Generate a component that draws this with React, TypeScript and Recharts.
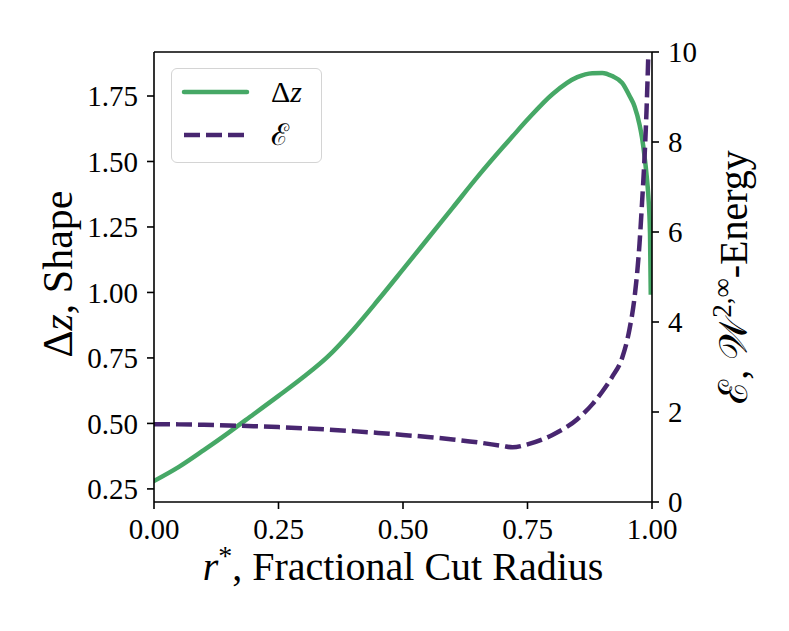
import { LineChart, Line, XAxis, YAxis, ReferenceLine } from "recharts";

// sample points of the cut radius r*
const R = [
  0, 0.05, 0.1, 0.15, 0.2, 0.25, 0.3, 0.35, 0.4, 0.45, 0.5, 0.55, 0.6, 0.65, 0.7,
  0.72, 0.75, 0.8, 0.85, 0.88, 0.9, 0.92, 0.94, 0.955, 0.965, 0.975, 0.98, 0.985,
  0.989, 0.9926, 0.996, 0.9975,
];

// Δz, shape (left axis)
const SHAPE = [
  0.28, 0.334, 0.398, 0.465, 0.535, 0.605, 0.677, 0.757, 0.858, 0.971, 1.088,
  1.206, 1.324, 1.442, 1.553, 1.596, 1.66, 1.757, 1.822, 1.837, 1.838, 1.826, 1.8,
  1.75, 1.71, 1.64, 1.59, 1.52, 1.45, 1.37, 1.226, 1.0,
];

// ℰ, W^{2,∞}-energy (right axis)
const ENERGY = [
  1.73, 1.725, 1.715, 1.7, 1.685, 1.665, 1.64, 1.61, 1.575, 1.535, 1.49, 1.445,
  1.39, 1.325, 1.245, 1.215, 1.28, 1.49, 1.84, 2.17, 2.45, 2.78, 3.2, 3.85,
  4.55, 5.75, 6.65, 7.65, 8.7, 9.93, null, null,
];

const X_TICKS = [0, 0.25, 0.5, 0.75, 1];
const SHAPE_TICKS = [0.25, 0.5, 0.75, 1, 1.25, 1.5, 1.75];
const ENERGY_TICKS = [0, 2, 4, 6, 8, 10];

const GREEN = "#46a866";
const PURPLE = "#482670";
const FONT = "'Liberation Serif', 'DejaVu Serif', serif";

const data = R.map((r, i) => ({ r, shape: SHAPE[i], energy: ENERGY[i] }));

const tickStyle = { fill: "#000", fontSize: 29, fontFamily: FONT, style: { fontFamily: FONT } };
const axisStroke = { stroke: "#000", strokeWidth: 1.6 };
const textStyle = { fontFamily: FONT };

const xLabel = () => (
  <text x={403} y={580} textAnchor="middle" fontSize={40} style={textStyle} fill="#000">
    <tspan fontStyle="italic">r</tspan>
    <tspan dy={-15} fontSize={28}>*</tspan>
    <tspan dy={15}>, Fractional Cut Radius</tspan>
  </text>
);

const leftLabel = () => (
  <text
    x={72}
    y={274}
    transform="rotate(-90 72 274)"
    textAnchor="middle"
    fontSize={42}
    style={textStyle}
    fill="#000"
  >
    Δ<tspan fontStyle="italic">z</tspan>, Shape
  </text>
);

const rightLabel = () => (
  <text
    x={747}
    y={277}
    transform="rotate(-90 747 277)"
    textAnchor="middle"
    fontSize={40}
    style={textStyle}
    fill="#000"
  >
    ℰ, 𝒲<tspan dy={-16} fontSize={27}>2,∞</tspan>
    <tspan dy={16}>-Energy</tspan>
  </text>
);

function LegendBox() {
  return (
    <div
      style={{
        position: "absolute",
        left: 171,
        top: 68,
        width: 149,
        height: 93,
        border: "1.5px solid #d4d4d4",
        borderRadius: 6,
        background: "rgba(255,255,255,0.8)",
        fontFamily: FONT,
      }}
    >
      <svg width={149} height={93} style={{ position: "absolute", left: 0, top: 0 }}>
        <line x1={12} x2={75} y1={23} y2={23} stroke={GREEN} strokeWidth={4.5} strokeLinecap="round" />
        <line x1={12} x2={74} y1={66} y2={66} stroke={PURPLE} strokeWidth={4.5} strokeDasharray="16 6" />
        <text x={99} y={33} fontSize={30} style={textStyle} fill="#000">
          Δ<tspan fontStyle="italic">z</tspan>
        </text>
        <text x={99} y={76} fontSize={30} style={textStyle} fill="#000">
          ℰ
        </text>
      </svg>
    </div>
  );
}

export default function App() {
  return (
    <div
      style={{
        position: "absolute",
        left: 0,
        top: 0,
        width: 789,
        height: 631,
        background: "#fff",
        fontFamily: FONT,
      }}
    >
      <LineChart width={789} height={631} data={data} margin={{ top: 52, right: 0, bottom: 0, left: 0 }}>
        <XAxis
          dataKey="r"
          type="number"
          domain={[0, 1]}
          ticks={X_TICKS}
          tickFormatter={(v: number) => v.toFixed(2)}
          height={129}
          tickSize={7}
          tickMargin={9}
          tick={tickStyle}
          axisLine={axisStroke}
          tickLine={axisStroke}
          allowDataOverflow
          label={{ content: xLabel }}
        />
        <YAxis
          yAxisId="left"
          orientation="left"
          type="number"
          domain={[0.2, 1.918]}
          ticks={SHAPE_TICKS}
          tickFormatter={(v: number) => v.toFixed(2)}
          width={154}
          tickSize={7}
          tickMargin={9}
          tick={tickStyle}
          axisLine={axisStroke}
          tickLine={axisStroke}
          allowDataOverflow
          label={{ content: leftLabel }}
        />
        <YAxis
          yAxisId="right"
          orientation="right"
          type="number"
          domain={[0, 10]}
          ticks={ENERGY_TICKS}
          tickFormatter={(v: number) => String(v)}
          width={137}
          tickSize={7}
          tickMargin={9}
          tick={tickStyle}
          axisLine={axisStroke}
          tickLine={axisStroke}
          allowDataOverflow
          label={{ content: rightLabel }}
        />
        {/* top frame of the plot box */}
        <ReferenceLine yAxisId="right" y={10} stroke="#000" strokeWidth={1.6} ifOverflow="visible" />
        <Line
          yAxisId="left"
          dataKey="shape"
          type="monotone"
          stroke={GREEN}
          strokeWidth={4.5}
          strokeLinecap="square"
          dot={false}
          isAnimationActive={false}
        />
        <Line
          yAxisId="right"
          dataKey="energy"
          type="monotone"
          stroke={PURPLE}
          strokeWidth={4.5}
          strokeDasharray="16 6"
          dot={false}
          isAnimationActive={false}
        />
      </LineChart>
      <LegendBox />
    </div>
  );
}
